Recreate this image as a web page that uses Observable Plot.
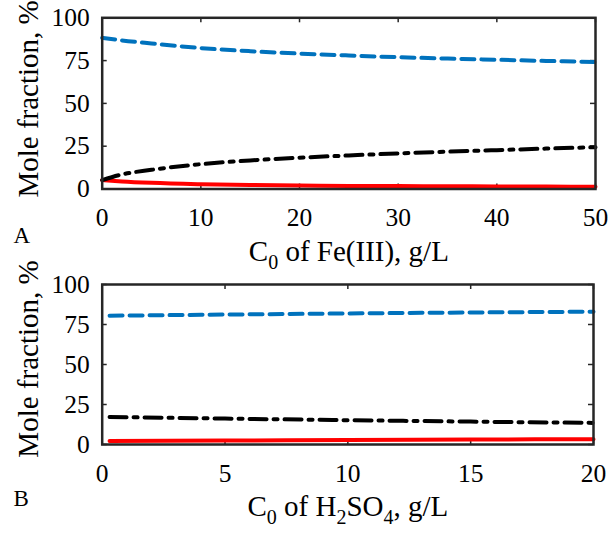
<!DOCTYPE html>
<html><head><meta charset="utf-8">
<script src="https://cdn.jsdelivr.net/npm/d3@7"></script>
<script src="https://cdn.jsdelivr.net/npm/@observablehq/plot@0.6"></script>
<style>
html,body{margin:0;padding:0;background:#fff}
#chart{width:609px;height:535px;position:relative}
#chart svg{display:block}
#chart svg text{font-family:"Liberation Serif","Times New Roman",serif}
</style>
</head><body><div id="chart"></div>
<script>
// ---- Data ----
const xA = [0, 2, 5, 10, 15, 20, 25, 30, 35, 40, 45, 50];
const blueA = [88.3, 86.8, 85.0, 82.3, 80.5, 79.1, 78.0, 77.0, 76.2, 75.5, 74.8, 74.2];
const blackA = [5.2, 8.5, 11.2, 14.5, 16.7, 18.3, 19.6, 20.8, 21.8, 22.7, 23.6, 24.4];
const redA = [5.2, 4.4, 3.6, 2.8, 2.3, 2.0, 1.8, 1.7, 1.6, 1.5, 1.4, 1.3];

const xB = [0.3, 5, 10, 15, 20];
const blueB = [80.5, 81.2, 81.9, 82.5, 83.0];
const blackB = [17.2, 16.2, 15.2, 14.3, 13.5];
const redB = [2.2, 2.5, 2.8, 3.1, 3.3];

const xTicksA = [0, 10, 20, 30, 40, 50];
const xTicksB = [0, 5, 10, 15, 20];
const yTicks = [0, 25, 50, 75, 100];

const yLabel = "Mole fraction, %";
const xLabelA = "C_0 of Fe(III), g/L";
const xLabelB = "C_0 of H_2SO_4, g/L";
const panelLetters = ["A", "B"];

// ---- Styles ----
const BLUE = "#0072BD", RED = "#FF0000", BLACK = "#000000";
const FONT = "Liberation Serif";

function rows(xs, ys) { return xs.map((x, i) => ({x, y: ys[i]})); }

function panel(cfg) {
  const frameW = cfg.width - cfg.ml - cfg.mr;
  const frameH = cfg.height - cfg.mt - cfg.mb;
  const T = 5; // inner tick length
  const svg = Plot.plot({
    width: cfg.width, height: cfg.height,
    marginLeft: cfg.ml, marginRight: cfg.mr, marginTop: cfg.mt, marginBottom: cfg.mb,
    style: {fontFamily: FONT, background: "white", color: "#000", overflow: "visible"},
    x: {domain: cfg.xDomain, ticks: cfg.xTicks},
    y: {domain: [0, 100], ticks: yTicks},
    marks: [
      Plot.axisX({ticks: cfg.xTicks, tickSize: 0, tickPadding: cfg.xPad, fontSize: 25.5, fontFamily: FONT, fontVariant: "normal", label: null}),
      Plot.axisY({ticks: yTicks, tickSize: 0, tickPadding: 12.5, fontSize: 25.5, fontFamily: FONT, fontVariant: "normal", label: null}),
      // inward ticks on all four sides
      Plot.tickX(cfg.xTicks, {x: d => d, insetTop: frameH - T, stroke: "#262626", strokeWidth: 1.5}),
      Plot.tickX(cfg.xTicks, {x: d => d, insetBottom: frameH - T, stroke: "#262626", strokeWidth: 1.5}),
      Plot.tickY(yTicks, {y: d => d, insetRight: frameW - T, stroke: "#262626", strokeWidth: 1.5}),
      Plot.tickY(yTicks, {y: d => d, insetLeft: frameW - T, stroke: "#262626", strokeWidth: 1.5}),
      // series
      Plot.line(rows(cfg.xs, cfg.red), {x: "x", y: "y", stroke: RED, strokeWidth: 4, curve: "monotone-x"}),
      Plot.line(rows(cfg.xs, cfg.black), {x: "x", y: "y", stroke: BLACK, strokeWidth: 4, strokeDasharray: "17,7,4,7", curve: "monotone-x"}),
      Plot.line(rows(cfg.xs, cfg.blue), {x: "x", y: "y", stroke: BLUE, strokeWidth: 4, strokeDasharray: "13,7", curve: "monotone-x"}),
      Plot.frame({stroke: "#262626", strokeWidth: 2.5}),
      // labels
      Plot.text([yLabel], {frameAnchor: "left", textAnchor: "middle", rotate: -90, dx: -64.7, dy: cfg.yLabelDy, lineAnchor: "bottom", fontSize: 29, fontFamily: FONT, fill: "#000"}),
      Plot.text([cfg.xLabel], {frameAnchor: "bottom", textAnchor: "middle", dy: cfg.xLabelDy, lineAnchor: "bottom", fontSize: 29, fontFamily: FONT, fill: "#000"}),
      Plot.text([cfg.letter], {frameAnchor: "bottom-left", dx: -88.7, dy: cfg.letterDy, textAnchor: "start", lineAnchor: "bottom", fontSize: 23, fontFamily: FONT, fill: "#000"})
    ]
  });
  subscriptify(svg);
  return svg;
}

function subscriptify(svg) {
  const ns = "http://www.w3.org/2000/svg";
  svg.querySelectorAll("text").forEach(t => {
    const s = t.textContent;
    if (!s.includes("_")) return;
    t.textContent = "";
    const parts = s.split(/(_\d)/).filter(p => p !== "");
    let prevSub = false;
    parts.forEach(p => {
      const ts = document.createElementNS(ns, "tspan");
      if (p.startsWith("_")) {
        ts.textContent = p.slice(1);
        ts.setAttribute("font-size", "20");
        ts.setAttribute("dy", "8");
        prevSub = true;
      } else {
        ts.textContent = p;
        if (prevSub) ts.setAttribute("dy", "-8");
        prevSub = false;
      }
      t.appendChild(ts);
    });
  });
}

const chart = document.getElementById("chart");
chart.appendChild(panel({
  width: 609, height: 270, ml: 101.7, mr: 14, mt: 17.3, mb: 81.5,
  xDomain: [0, 50], xTicks: xTicksA, xPad: 19,
  xs: xA, blue: blueA, black: blackA, red: redA,
  xLabel: xLabelA, xLabelDy: 71.5, letter: panelLetters[0], letterDy: 53.5, yLabelDy: -4.5
}));
chart.appendChild(panel({
  width: 609, height: 265, ml: 101.7, mr: 16, mt: 14, mb: 91,
  xDomain: [0, 20], xTicks: xTicksB, xPad: 19.5,
  xs: xB, blue: blueB, black: blackB, red: redB,
  xLabel: xLabelB, xLabelDy: 71.5, letter: panelLetters[1], letterDy: 61, yLabelDy: -5.5
}));
</script>
</body></html>
